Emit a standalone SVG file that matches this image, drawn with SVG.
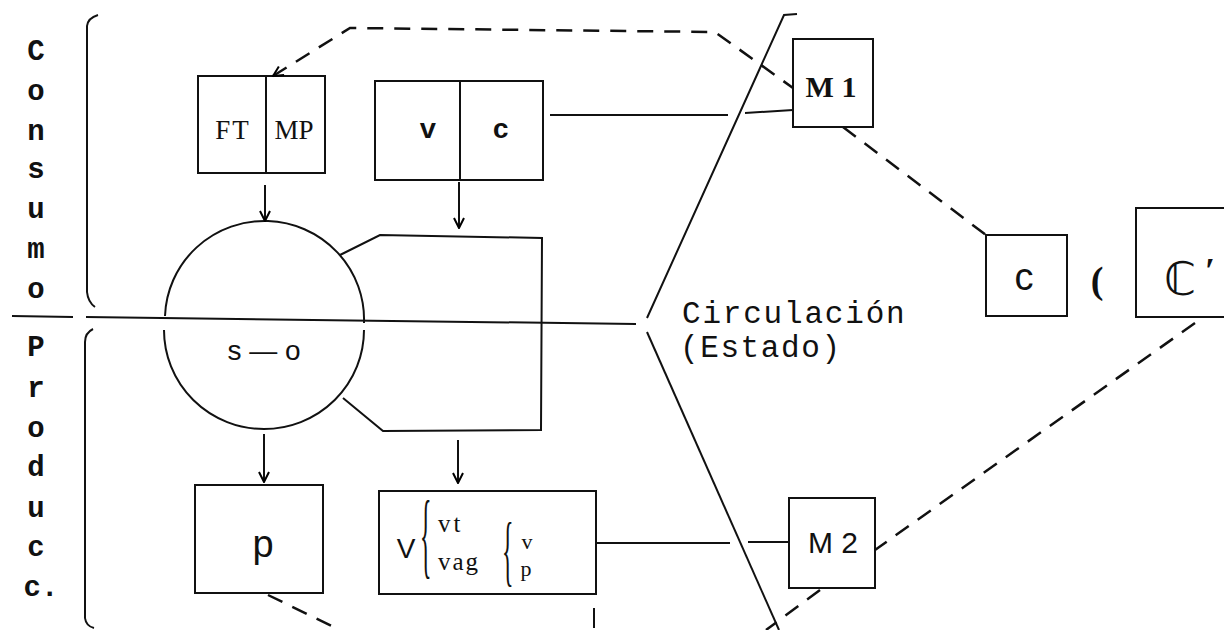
<svg xmlns="http://www.w3.org/2000/svg" width="1224" height="630" viewBox="0 0 1224 630">
<defs>
<marker id="arr" viewBox="0 0 12 12" refX="11" refY="6" markerWidth="12" markerHeight="12" markerUnits="userSpaceOnUse" orient="auto-start-reverse">
<path d="M1,1 L11,6 L1,11" fill="none" stroke="#000" stroke-width="2"/>
</marker>
</defs>
<style>
.ln{fill:none;stroke:#111;stroke-width:2}
.dash{fill:none;stroke:#111;stroke-width:2.5;stroke-dasharray:16 11}
.side{font-family:"Liberation Mono",monospace;font-weight:bold;font-size:29px;fill:#111;text-anchor:middle}
.serif{font-family:"Liberation Serif",serif;fill:#111}
.sans{font-family:"Liberation Sans",sans-serif;fill:#111}
.mono{font-family:"Liberation Mono",monospace;fill:#111}
</style>
<rect width="1224" height="630" fill="#fff"/>

<g id="label-consumo">
<text class="side" x="36" y="60">C</text>
<text class="side" x="36" y="100">o</text>
<text class="side" x="36" y="140">n</text>
<text class="side" x="36" y="178">s</text>
<text class="side" x="36" y="218">u</text>
<text class="side" x="36" y="258">m</text>
<text class="side" x="36" y="298">o</text>
<path class="ln" d="M98,15 Q88,18 87,26 L87,292 Q88,302 95,307"/>
</g>

<g id="label-produccion">
<text class="side" x="36" y="356">P</text>
<text class="side" x="36" y="397">r</text>
<text class="side" x="36" y="437">o</text>
<text class="side" x="36" y="476">d</text>
<text class="side" x="36" y="517">u</text>
<text class="side" x="36" y="556">c</text>
<text class="side" x="41" y="596">c.</text>
<path class="ln" d="M93,329 Q85,333 85,342 L85,618 Q86,626 94,628"/>
</g>

<g id="divider">
<path class="ln" d="M12,316 L73,317 M86,317 L636,324"/>
</g>

<g id="circulacion">
<path class="ln" d="M797,14 L784,15 L647,318"/>
<path class="ln" d="M647,332 L779,630"/>
<text class="mono" font-size="31" x="682" y="323" letter-spacing="1.8">Circulación</text>
<text class="mono" font-size="31" x="680" y="357" letter-spacing="1.6">(Estado)</text>
</g>

<g id="ftmp">
<rect class="ln" x="198" y="76" width="127" height="97"/>
<line class="ln" x1="266" y1="76" x2="266" y2="173"/>
<text class="serif" font-size="27" x="233" y="139" text-anchor="middle" letter-spacing="2">FT</text>
<text class="serif" font-size="27" x="294" y="139" text-anchor="middle">MP</text>
</g>

<g id="vc">
<rect class="ln" x="375" y="81" width="168" height="99"/>
<line class="ln" x1="460" y1="81" x2="460" y2="180"/>
<text class="mono" font-size="28" font-weight="bold" x="428" y="138" text-anchor="middle">v</text>
<text class="mono" font-size="28" font-weight="bold" x="501" y="138" text-anchor="middle">c</text>
</g>

<g id="so">
<path class="ln" d="M165,316 A99,98 0 1 1 364,323"/>
<path class="ln" d="M364,330 A99,98 0 1 1 164,330"/>
<path class="ln" d="M340,255 L380,235 L542,238 L541,430 L383,431 L343,398"/>
<text class="sans" font-size="28" x="264" y="360" text-anchor="middle">s — o</text>
</g>

<g id="p">
<rect class="ln" x="195" y="485" width="128" height="108"/>
<text class="sans" font-size="38" x="263" y="557" text-anchor="middle">p</text>
</g>

<g id="V">
<rect class="ln" x="379" y="491" width="217" height="103"/>
<text class="sans" font-size="28" x="406" y="558" text-anchor="middle">V</text>
<text class="serif" font-size="24" transform="translate(420,566) scale(1,4)">{</text>
<text class="serif" font-size="25" x="438" y="532" letter-spacing="3">vt</text>
<text class="serif" font-size="25" x="438" y="570" letter-spacing="2">vag</text>
<text class="serif" font-size="24" transform="translate(502,577) scale(1,3.3)">{</text>
<text class="serif" font-size="22" x="527" y="549" text-anchor="middle">v</text>
<text class="serif" font-size="22" x="526" y="576" text-anchor="middle">p</text>
</g>

<g id="M1">
<rect class="ln" x="793" y="39" width="80" height="88"/>
<text class="serif" font-size="30" font-weight="bold" x="831" y="97" text-anchor="middle">M 1</text>
</g>

<g id="M2">
<rect class="ln" x="789" y="498" width="86" height="90"/>
<text class="sans" font-size="30" x="833" y="553" text-anchor="middle">M 2</text>
</g>

<g id="c">
<rect class="ln" x="986" y="235" width="81" height="81"/>
<text class="sans" font-size="38" x="1024" y="290" text-anchor="middle">c</text>
</g>

<g id="lt">
<text class="serif" font-size="38" font-weight="bold" x="1097" y="293" text-anchor="middle">(</text>
</g>

<g id="Cprime">
<rect class="ln" x="1136" y="208" width="100" height="109"/>
<text font-family="DejaVu Sans, sans-serif" font-size="46" fill="#111" x="1180" y="295" text-anchor="middle">ℂ</text>
<text class="serif" font-size="36" font-weight="bold" x="1210" y="283" text-anchor="middle">′</text>
</g>

<g id="connectors">
<line class="ln" x1="265" y1="185" x2="265" y2="221" marker-end="url(#arr)"/>
<line class="ln" x1="459" y1="182" x2="459" y2="228" marker-end="url(#arr)"/>
<line class="ln" x1="264" y1="434" x2="264" y2="482" marker-end="url(#arr)"/>
<line class="ln" x1="458" y1="440" x2="458" y2="483" marker-end="url(#arr)"/>
<path class="ln" d="M550,115 L728,115 M745,113 L793,110"/>
<path class="ln" d="M597,543 L730,543 M748,542 L789,542"/>
<line class="ln" x1="594" y1="608" x2="594" y2="628"/>
<path class="dash" d="M273,76 L350,28 L715,32 L793,88" marker-start="url(#arr)"/>
<path class="dash" d="M843,127 L986,235"/>
<path class="dash" d="M1195,323 L875,550"/>
<path class="dash" d="M820,590 L766,630"/>
<path class="dash" d="M268,595 L340,630"/>
</g>
</svg>
